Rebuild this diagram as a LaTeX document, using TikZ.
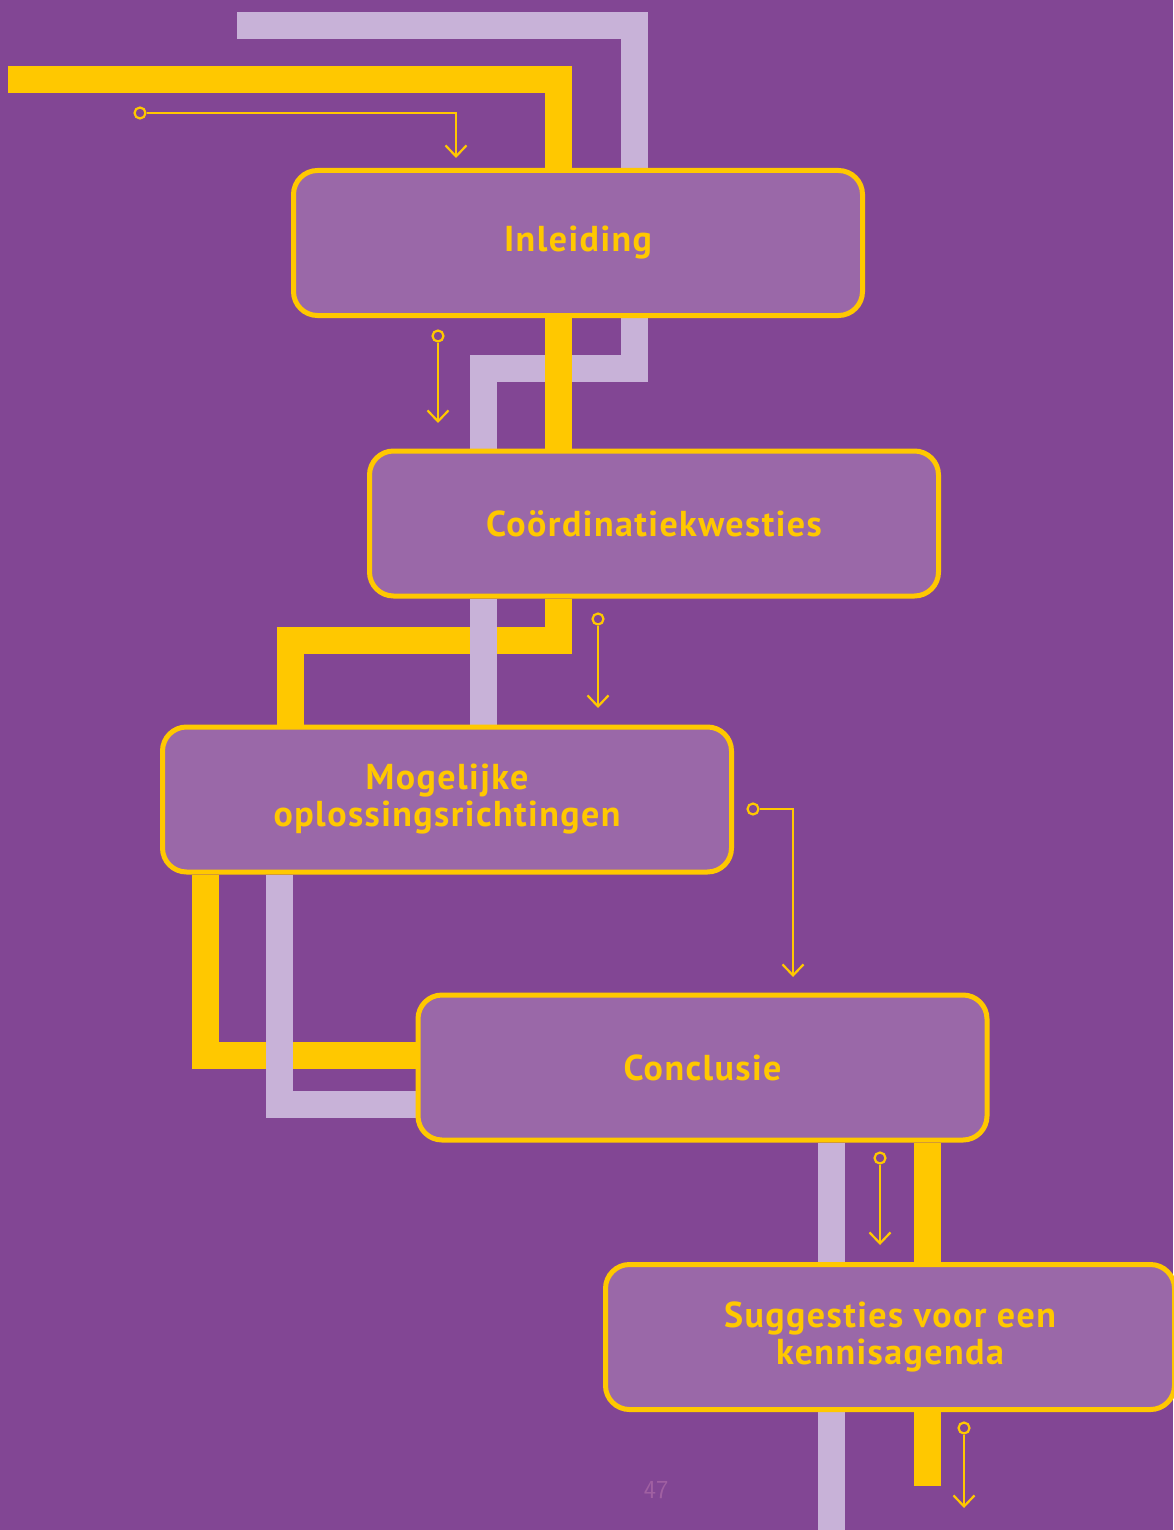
\documentclass[tikz,border=0pt]{standalone}
\usepackage{fontspec}
\setmainfont{PT Sans}
\newfontfamily\chapterfont[LetterSpace=4]{PT Sans}
\usetikzlibrary{arrows.meta}
\definecolor{bgpurple}{RGB}{130,70,148}
\definecolor{boxpurple}{RGB}{154,104,168}
\definecolor{gold}{RGB}{255,200,0}
\definecolor{lilac}{RGB}{200,178,216}
\definecolor{pagenum}{RGB}{160,96,162}
\pgfdeclarelayer{back}
\pgfsetlayers{back,main}
\begin{document}
\begin{tikzpicture}[x=1pt,y=-1pt,
  chapter/.style={draw=gold, line width=5pt, fill=boxpurple, rounded corners=24pt,
    minimum width=569pt, minimum height=145pt, inner sep=0pt, align=center,
    text=gold, font=\chapterfont\bfseries\fontsize{36}{37}\selectfont},
  band/.style={line width=27pt, line cap=butt, line join=miter},
  goldband/.style={band, draw=gold},
  lilacband/.style={band, draw=lilac},
  pin/.style={circle, draw=gold, line width=2.2pt, minimum size=11pt, inner sep=0pt},
  pointer/.style={draw=gold, line width=2.2pt, -{Straight Barb[length=11pt,width=21pt,line width=2.2pt]}}
]
\useasboundingbox (0,0) rectangle (1173,1530);

% chapter boxes
\node[chapter] (b1) at (578,243) {Inleiding};
\node[chapter] (b2) at (654,523.5) {Coördinatiekwesties};
\node[chapter] (b3) at (447,799.5) {Mogelijke\\oplossingsrichtingen};
\node[chapter] (b4) at (702.5,1067.5) {Conclusie};
\node[chapter] (b5) at (890,1337) {Suggesties voor een\\kennisagenda};

% band end points and bends
\coordinate (g0) at (8,79.5);
\coordinate (l0) at (237,25.5);
\coordinate (lbend) at (483,368.5);
\coordinate (gbend) at (290.5,640);
\coordinate (gend) at (927.5,1485.5);
\coordinate (lend) at (831,1545);

\begin{pgfonlayer}{back}
  \fill[bgpurple] (0,0) rectangle (1173,1530);
  % into Inleiding
  \draw[lilacband] (l0) -| ([xshift=56pt]b1.north);
  \draw[goldband] (g0) -| ([xshift=-19.5pt]b1.north);
  % Inleiding -> Coordinatiekwesties
  \draw[lilacband] ([xshift=56pt]b1.south) |- (lbend) -- ([xshift=-171pt]b2.north);
  \draw[goldband] ([xshift=-19.5pt]b1.south) -- ([xshift=-95.5pt]b2.north);
  % Coordinatiekwesties -> Mogelijke oplossingsrichtingen
  \draw[goldband] ([xshift=-95.5pt]b2.south) |- (gbend) -- ([xshift=-156.5pt]b3.north);
  \draw[lilacband] ([xshift=-171pt]b2.south) -- ([xshift=36pt]b3.north);
  % Mogelijke oplossingsrichtingen -> Conclusie
  \draw[goldband] ([xshift=-242pt]b3.south) |- ([yshift=12pt]b4.west);
  \draw[lilacband] ([xshift=-168pt]b3.south) |- ([yshift=-36.5pt]b4.west);
  % Conclusie -> Suggesties
  \draw[lilacband] ([xshift=128.5pt]b4.south) -- (lend);
  \draw[goldband] ([xshift=225pt]b4.south) -- ([xshift=37.5pt]b5.north);
  \draw[goldband] ([xshift=37.5pt]b5.south) -- (gend);
\end{pgfonlayer}

% small pointers
\node[pin] (p1) at (140,113) {};
\coordinate (t1) at (456,158);
\draw[pointer] (p1) -| (t1);
\node[pin] (p2) at (438,336) {};
\coordinate (t2) at (438,423);
\draw[pointer] (p2) -- (t2);
\node[pin] (p3) at (598,619) {};
\coordinate (t3) at (598,708);
\draw[pointer] (p3) -- (t3);
\node[pin] (p4) at (753,809) {};
\coordinate (t4) at (793,977);
\draw[pointer] (p4) -| (t4);
\node[pin] (p5) at (880,1158) {};
\coordinate (t5) at (880,1245);
\draw[pointer] (p5) -- (t5);
\node[pin] (p6) at (964,1428) {};
\coordinate (t6) at (964,1508);
\draw[pointer] (p6) -- (t6);

% page number
\node[text=pagenum, font=\sffamily\fontsize{26}{26}\selectfont] (pg) at (656,1490) {47};
\end{tikzpicture}
\end{document}
